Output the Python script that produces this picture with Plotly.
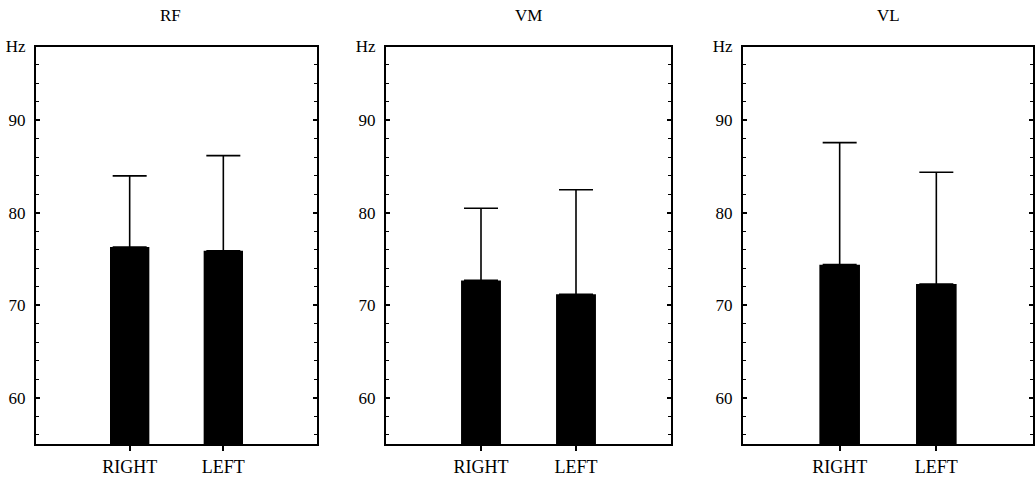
import plotly.graph_objects as go

muscles = ["RF", "VM", "VL"]
sides = ["RIGHT", "LEFT"]
means = {
    "RF": [76.3, 75.9],
    "VM": [72.7, 71.2],
    "VL": [74.4, 72.3],
}
sd_up = {
    "RF": [7.7, 10.3],
    "VM": [7.8, 11.3],
    "VL": [13.2, 12.1],
}
ytick_vals = [60, 70, 80, 90, 98]
ytick_text = ["60", "70", "80", "90", "Hz"]

W, H = 1036, 478
x_px = [(36, 317), (386, 671), (743, 1033)]
y_top, y_bot = 46.5, 444

font_family = "Liberation Serif, Times New Roman, serif"

fig = go.Figure()
for i, m in enumerate(muscles):
    n = "" if i == 0 else str(i + 1)
    fig.add_trace(go.Bar(
        x=sides, y=means[m],
        xaxis="x" + n, yaxis="y" + n,
        width=0.42,
        marker=dict(color="black", line=dict(width=0)),
        error_y=dict(type="data", array=sd_up[m], arrayminus=[0, 0], symmetric=False,
                     color="black", thickness=1.6, width=17),
        showlegend=False,
    ))
    xd = [x_px[i][0] / W, x_px[i][1] / W]
    yd = [1 - y_bot / H, 1 - y_top / H]
    fig.layout["xaxis" + n] = dict(
        domain=xd, anchor="y" + n, type="category", range=[-1, 2],
        showline=True, linecolor="black", linewidth=2, mirror=True,
        ticks="outside", ticklen=5, tickwidth=1.5, tickcolor="black",
        showgrid=False, zeroline=False, automargin=False,
        tickfont=dict(family=font_family, size=18, color="black"),
        ticklabelstandoff=0,
    )
    fig.layout["yaxis" + n] = dict(
        domain=yd, anchor="x" + n, range=[55, 98],
        tickvals=ytick_vals, ticktext=ytick_text,
        showline=True, linecolor="black", linewidth=2, mirror="allticks",
        ticks="inside", ticklen=4, tickwidth=1.5, tickcolor="black",
        minor=dict(dtick=2, tick0=0, ticks="inside", ticklen=3, tickwidth=1.3, tickcolor="black", showgrid=False),
        showgrid=False, zeroline=False, automargin=False,
        tickfont=dict(family=font_family, size=17, color="black"),
        ticklabelstandoff=5,
    )
    fig.add_annotation(
        text=m, xref="paper", yref="paper",
        x=(x_px[i][0] + x_px[i][1]) / 2 / W - (0.006 if i == 0 else 0),
        y=1 - 16 / H, xanchor="center", yanchor="middle",
        showarrow=False, font=dict(family=font_family, size=17, color="black"),
    )

fig.update_layout(
    width=W, height=H,
    margin=dict(l=0, r=0, t=0, b=0, autoexpand=False),
    paper_bgcolor="white", plot_bgcolor="white",
    bargap=0.5,
)
fig.write_html(
    "out.html",
    config={"displayModeBar": False},
    post_script="document.body.style.margin='0';document.body.style.overflow='hidden';",
)
